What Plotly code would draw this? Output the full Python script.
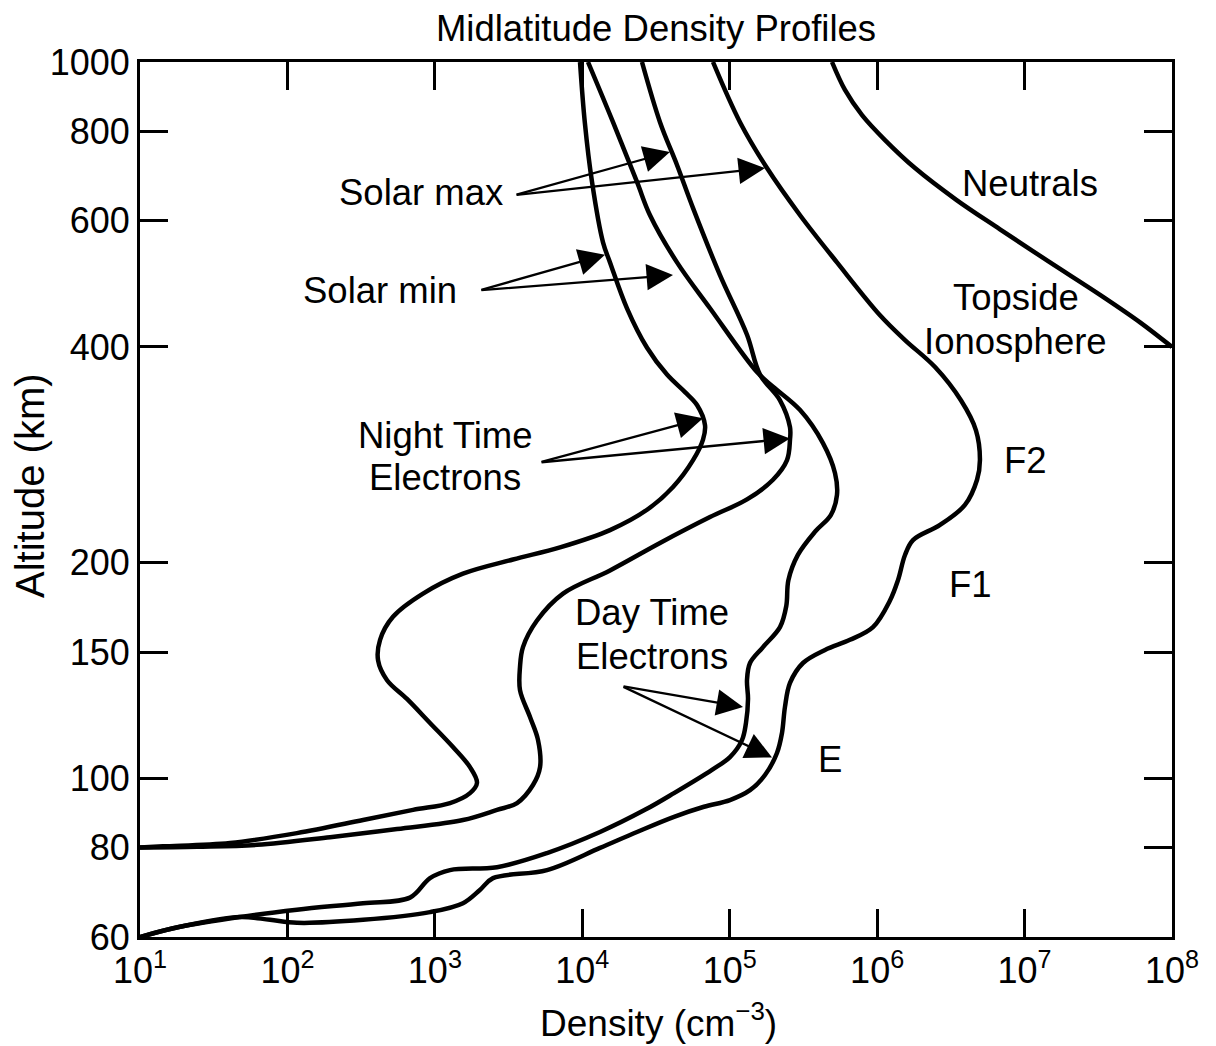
import math
import plotly.graph_objects as go

# ---------------- data (density in cm^-3, altitude in km) ----------------
night_min_density = [9.65e3, 1.04e4, 1.164e4, 1.382e4, 1.542e4, 2.01e4, 2.75e4, 3.755e4, 4.975e4, 6.0e4,
                     6.80e4, 6.59e4, 5.64e4, 4.125e4, 2.75e4, 1.542e4, 7.06e3, 3.39e3, 1.551e3, 831,
                     520, 425, 412, 474, 647, 927, 1.327e3, 1.731e3, 1.931e3, 1.731e3,
                     1.267e3, 711, 326, 116, 40.8, 14.3, 10]
night_min_altitude = [1000, 824, 680, 560, 525, 453, 399, 366, 346, 332,
                      311, 297, 278, 255, 237, 222, 210, 202, 193, 181,
                      168, 156, 146, 137, 129, 119.4, 110.5, 103.6, 98.5, 95.3,
                      92.3, 90.3, 87.4, 83.8, 81.2, 80.3, 80]

night_max_density = [2.54e4, 3.366e4, 4.39e4, 5.64e4, 8.59e4, 1.31e5, 1.605e5, 2.193e5, 2.564e5, 2.564e5,
                     2.447e5, 1.966e5, 1.31e5, 7.35e4, 3.366e4, 1.542e4, 7.40e3, 4.93e3, 3.96e3, 3.78e3,
                     3.78e3, 4.42e3, 5.01e3, 5.17e3, 4.63e3, 3.61e3, 2.64e3, 1.551e3, 554, 194.5,
                     62.2, 24.4, 10]
night_max_altitude = [1000, 824, 718, 625, 504, 416, 366, 337, 309, 297,
                      278, 261, 245, 231.5, 213, 195, 181, 166, 152.4, 143,
                      132.7, 121.7, 113, 103.6, 97.8, 92.3, 90.3, 87.4, 84.9, 82.7,
                      80.7, 80.2, 80]

day_min_density = [1.093e4, 1.616e4, 2.35e4, 2.88e4, 4.39e4, 7.35e4, 1.531e5, 1.966e5, 3.00e5, 4.29e5,
                   5.18e5, 5.34e5, 4.85e5, 3.80e5, 2.90e5, 2.50e5, 2.42e5, 2.193e5, 1.682e5, 1.373e5,
                   1.31e5, 1.331e5, 1.289e5, 1.211e5, 1.004e5, 7.58e4, 4.19e4, 2.66e4, 1.319e4, 5.76e3,
                   2.64e3, 1.267e3, 927, 678, 326, 116, 47.7, 18.7, 10]
day_min_altitude = [1000, 824, 680, 611, 525, 453, 369, 352, 326.5, 293.6,
                    266.6, 248.5, 233, 221, 205, 189, 174, 162.5, 152.4, 144.8,
                    137, 129, 119.4, 113, 107, 102.7, 95.3, 90.3, 84.1, 78.6,
                    75.1, 74.4, 72.5, 68.1, 66.9, 65.5, 64.0, 62.0, 60]

day_max_density = [7.70e4, 1.174e5, 1.79e5, 3.00e5, 5.34e5, 1.046e6, 1.545e6, 2.47e6, 3.70e6, 4.68e6,
                   4.98e6, 4.76e6, 3.94e6, 2.67e6, 1.751e6, 1.545e6, 1.385e6, 1.222e6, 9.37e5, 6.54e5,
                   4.43e5, 3.14e5, 2.564e5, 2.37e5, 2.262e5, 2.092e5, 1.735e5, 1.373e5, 1.004e5, 6.69e4,
                   4.19e4, 2.35e4, 1.319e4, 5.76e3, 2.48e3, 2.02e3, 1.551e3, 927, 326, 116,
                   76.2, 47.7, 18.7, 10]
day_max_altitude = [1000, 824, 711, 611, 525, 443, 409, 375, 337, 306,
                    278, 261, 240.7, 225.7, 215, 204.9, 189, 177, 162.5, 156,
                    151, 144.8, 135.8, 125.7, 115.6, 108.4, 101, 96.2, 93.2, 91.2,
                    88.3, 84.1, 79.9, 74.4, 72.5, 69.8, 66.9, 65.0, 63.4, 62.8,
                    63.4, 64.0, 62.0, 60]

neutral_density = [4.94e5, 6.05e5, 7.90e5, 1.131e6, 1.806e6, 3.48e6, 6.81e6, 1.488e7, 3.25e7, 6.07e7, 1e8]
neutral_altitude = [1000, 914, 843, 778, 711, 641, 584, 525, 473, 433, 400]

x_tick_values = [1e1, 1e2, 1e3, 1e4, 1e5, 1e6, 1e7, 1e8]
x_tick_labels = ["10<sup>1</sup>", "10<sup>2</sup>", "10<sup>3</sup>", "10<sup>4</sup>",
                 "10<sup>5</sup>", "10<sup>6</sup>", "10<sup>7</sup>", "10<sup>8</sup>"]
y_tick_values = [60, 80, 100, 150, 200, 400, 600, 800, 1000]
y_tick_labels = ["60", "80", "100", "150", "200", "400", "600", "800", "1000"]

# arrows: (tail density, tail altitude, [(tip density, tip altitude), ...])
arrow_solar_max = (3.50e3, 652, [(3.93e4, 749), (1.735e5, 711)])
arrow_solar_min = (2.02e3, 480, [(1.426e4, 538), (4.125e4, 504)])
arrow_night = (5.17e3, 276, [(6.59e4, 318), (2.564e5, 298)])
arrow_day = (1.859e4, 134.4, [(1.231e5, 125.7), (1.936e5, 106.9)])

FONT = "Liberation Sans, Arial, Helvetica, sans-serif"

fig = go.Figure()
curves = [
    (night_min_density, night_min_altitude),
    (night_max_density, night_max_altitude),
    (day_min_density, day_min_altitude),
    (day_max_density, day_max_altitude),
    (neutral_density, neutral_altitude),
]
for xs, ys in curves:
    fig.add_trace(go.Scatter(x=xs, y=ys, mode="lines",
                             line=dict(color="black", width=4.5, shape="spline", smoothing=1.0),
                             showlegend=False, hoverinfo="skip"))

annotations = []
for tail_x, tail_y, tips in [arrow_solar_max, arrow_solar_min, arrow_night, arrow_day]:
    for tx, ty in tips:
        annotations.append(dict(
            x=math.log10(tx), y=math.log10(ty), xref="x", yref="y",
            ax=math.log10(tail_x), ay=math.log10(tail_y), axref="x", ayref="y",
            text="", showarrow=True, arrowhead=2, arrowsize=2.3, arrowwidth=2.3,
            arrowcolor="black", standoff=0, startstandoff=0))

labels = [
    ("Solar max", 0.2723, 0.8503),
    ("Solar min", 0.2326, 0.7394),
    ("Night Time", 0.2955, 0.5737),
    ("Electrons", 0.2955, 0.5257),
    ("Day Time", 0.4961, 0.3714),
    ("Electrons", 0.4961, 0.3211),
    ("Neutrals", 0.8624, 0.8606),
    ("Topside", 0.8488, 0.7303),
    ("Ionosphere", 0.8488, 0.6800),
    ("F2", 0.8576, 0.5440),
    ("F1", 0.8043, 0.4023),
    ("E", 0.6686, 0.2023),
]
for txt, px, py in labels:
    annotations.append(dict(text=txt, x=px, y=py, xref="paper", yref="paper",
                            showarrow=False, xanchor="center", yanchor="middle",
                            font=dict(family=FONT, size=36.5, color="black")))

annotations.append(dict(text="Altitude (km)", x=-0.1066, y=0.5166, xref="paper", yref="paper",
                        showarrow=False, textangle=-90, xanchor="center", yanchor="middle",
                        font=dict(family=FONT, size=40, color="black")))
annotations.append(dict(text="Density (cm<sup>\u22123</sup>)", x=0.5029, y=-0.0950,
                        xref="paper", yref="paper", showarrow=False,
                        xanchor="center", yanchor="middle",
                        font=dict(family=FONT, size=37, color="black")))

fig.update_layout(
    width=1216, height=1046, autosize=False,
    margin=dict(l=140, r=44, t=62, b=109),
    paper_bgcolor="white", plot_bgcolor="white",
    title=dict(text="Midlatitude Density Profiles", x=0.5, xref="paper",
               y=1 - 28 / 1046, yref="container", yanchor="middle", xanchor="center",
               font=dict(family=FONT, size=36.5, color="black")),
    annotations=annotations,
    showlegend=False,
)
fig.update_xaxes(type="log", range=[1, 8], tickvals=x_tick_values, ticktext=x_tick_labels,
                 ticks="inside", ticklen=28, tickwidth=2.5, tickcolor="black",
                 showline=True, linewidth=3, linecolor="black", mirror="ticks",
                 showgrid=False, zeroline=False,
                 tickfont=dict(family=FONT, size=36, color="black"))
fig.update_yaxes(type="log", range=[math.log10(60), math.log10(1000)],
                 tickvals=y_tick_values, ticktext=y_tick_labels,
                 ticks="inside", ticklen=28, tickwidth=2.5, tickcolor="black",
                 showline=True, linewidth=3, linecolor="black", mirror="ticks",
                 showgrid=False, zeroline=False,
                 tickfont=dict(family=FONT, size=36, color="black"))

fig.write_html("out.html")
